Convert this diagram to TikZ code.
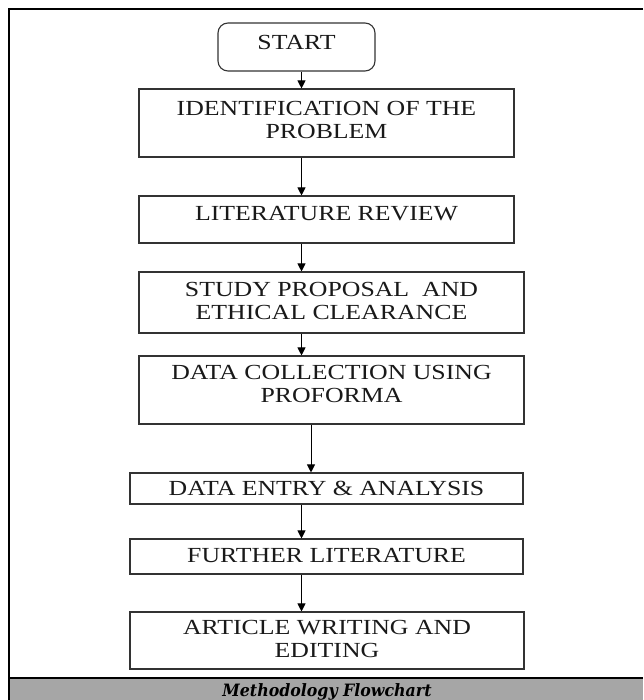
\documentclass[tikz,border=0pt]{standalone}
\usepackage{fontspec}
\setmainfont{Liberation Serif}[FakeStretch=1.2]
\newfontfamily\capfont{DejaVu Serif}[FakeStretch=0.93]
\usetikzlibrary{arrows.meta,positioning,calc}
\newcommand{\lift}[1]{\rule[-#1]{0pt}{#1}}

\begin{document}
\begin{tikzpicture}[x=1pt,y=-1pt,
  stepbox/.style={draw=black!80,line width=1.1pt,align=center,inner sep=0pt,
    font=\fontsize{21.5}{23}\selectfont,text=black!90},
  arr/.style={-{Triangle[width=8pt,length=8pt]},line width=1pt}]
\useasboundingbox (0,0) rectangle (643,700);
% frame and caption band
\fill[gray!70] (10,678) rectangle (643,700);
\draw[line width=2pt] (9,677.5) -- (643,677.5);
\draw[line width=2pt] (643,9) -- (9,9) -- (9,700);
\node[anchor=base,font=\capfont\bfseries\itshape\fontsize{17}{19}\selectfont] (cap) at (327,696.5) {Methodology Flowchart};
% steps
\node[stepbox,rounded corners=10pt,minimum width=157pt,minimum height=48pt] (start) at (296.5,47) {START\lift{10pt}};
\node[stepbox,minimum width=375pt,minimum height=68pt] (ident) at (326.5,123) {IDENTIFICATION OF THE\\PROBLEM\lift{6pt}};
\node[stepbox,minimum width=375pt,minimum height=47pt] (litrev) at (326.5,219.5) {LITERATURE REVIEW\lift{13pt}};
\node[stepbox,minimum width=385pt,minimum height=61pt] (proposal) at (331.5,302.5) {STUDY PROPOSAL\ \ AND\\ETHICAL CLEARANCE\lift{4pt}};
\node[stepbox,minimum width=385pt,minimum height=68pt] (collect) at (331.5,390) {DATA COLLECTION USING\\PROFORMA\lift{13pt}};
\node[stepbox,minimum width=393pt,minimum height=31pt] (entry) at (326.5,488.5) {DATA ENTRY \& ANALYSIS};
\node[stepbox,minimum width=393pt,minimum height=35pt] (further) at (326.5,556.5) {FURTHER LITERATURE\lift{3pt}};
\node[stepbox,minimum width=394pt,minimum height=57pt] (article) at (327,640.5) {ARTICLE WRITING AND\\EDITING\lift{3pt}};
% arrows sit left of the box centres
\coordinate (ax) at (301.5,0);
\coordinate (bx) at (311,0);
\draw[arr] (start.south -| ax) -- (ident.north -| ax);
\draw[arr] (ident.south -| ax) -- (litrev.north -| ax);
\draw[arr] (litrev.south -| ax) -- (proposal.north -| ax);
\draw[arr] (proposal.south -| ax) -- (collect.north -| ax);
\draw[arr] (collect.south -| bx) -- (entry.north -| bx);
\draw[arr] (entry.south -| ax) -- (further.north -| ax);
\draw[arr] (further.south -| ax) -- (article.north -| ax);
\end{tikzpicture}
\end{document}
